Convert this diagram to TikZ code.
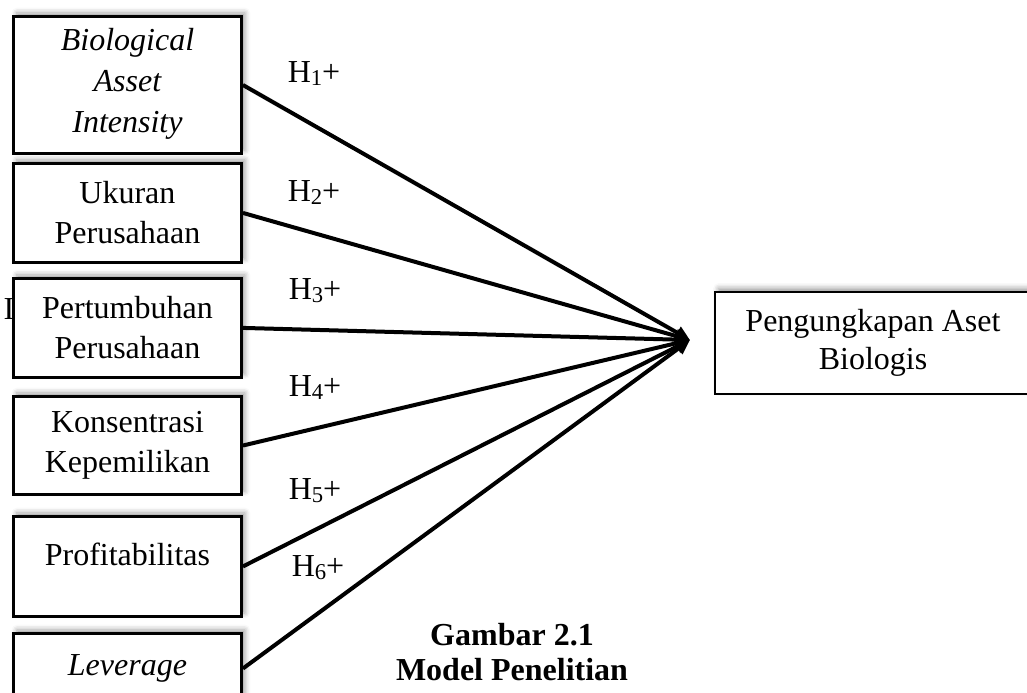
\documentclass[tikz,border=0pt]{standalone}
\usepackage{fontspec}
\setmainfont{Liberation Serif}
\usetikzlibrary{arrows.meta,shadows.blur}
\begin{document}
\begin{tikzpicture}[x=0.375pt, y=-0.375pt,
    var/.style={draw, line width=1.1pt, fill=white, anchor=north west,
      blur shadow={shadow xshift=1.3pt, shadow yshift=1.3pt, shadow blur radius=2pt},
      minimum width=85.5pt, inner sep=0pt, align=center,
      font=\fontsize{12}{15}\selectfont},
    hyp/.style={anchor=base, font=\fontsize{12}{14}\selectfont},
    link/.style={line width=1.5pt, -{Triangle[length=5.5pt,width=5pt]}}]
  \useasboundingbox (0,0) rectangle (1027,693);
  \node[anchor=base west, inner sep=0pt, font=\fontsize{12}{15}\selectfont] (stray) at (3,320) {I};
  \node[var, minimum height=51.4pt, text depth=3.5pt, font=\fontsize{12}{15.3}\selectfont\itshape] (bai) at (12,15) {Biological\\Asset\\Intensity};
  \node[var, minimum height=37.1pt] (size) at (12,162) {Ukuran\\Perusahaan};
  \node[var, minimum height=37.1pt] (growth) at (12,277) {Pertumbuhan\\Perusahaan};
  \node[var, minimum height=36.8pt] (own) at (12,395) {Konsentrasi\\Kepemilikan};
  \node[var, minimum height=37.5pt, text depth=9.5pt] (prof) at (12,515) {Profitabilitas};
  \node[var, minimum height=26.3pt, font=\fontsize{12}{15}\selectfont\itshape] (lev) at (12,632) {Leverage};
  \node[draw, line width=1pt, fill=white, minimum width=118.5pt, minimum height=38.3pt,
    blur shadow={shadow xshift=1.3pt, shadow yshift=1.3pt, shadow blur radius=2pt},
    align=center, font=\fontsize{12}{14}\selectfont] (dep) at (873,343) {Pengungkapan Aset\\Biologis};
  \coordinate (tip) at (690,340);
  \foreach \src in {bai,size,growth,own,prof,lev}
    \draw[link] (\src.east) -- (tip);
  \foreach \i/\x/\y in {1/314/83, 2/314/202, 3/315/300, 4/315/397, 5/315/500, 6/318/577}
    \node[hyp] (h\i) at (\x,\y) {H\raisebox{-0.2ex}{\fontsize{8.5}{9}\selectfont\i}+};
  \node[align=center, font=\bfseries\fontsize{12}{13.1}\selectfont] (cap) at (512,652) {Gambar 2.1\\Model Penelitian};
\end{tikzpicture}
\end{document}
